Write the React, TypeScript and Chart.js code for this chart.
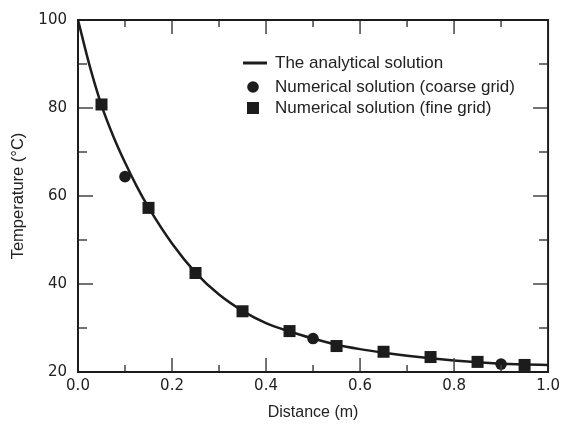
import React, { useEffect, useRef } from "react";
import { Chart, registerables } from "chart.js";

Chart.register(...registerables);

const analyticX = [0, 0.025, 0.05, 0.075, 0.1, 0.125, 0.15, 0.2, 0.25, 0.3, 0.35, 0.4, 0.45, 0.5, 0.55, 0.6, 0.65, 0.7, 0.75, 0.8, 0.85, 0.9, 0.95, 1.0];
const analyticY = [100, 89.5, 80.6, 73.6, 67.6, 62.2, 57.4, 49.2, 42.6, 37.6, 33.9, 31.1, 29.2, 27.6, 26.2, 25.2, 24.4, 23.7, 23.1, 22.6, 22.2, 21.9, 21.7, 21.6];

const coarseX = [0.1, 0.5, 0.9];
const coarseY = [64.4, 27.6, 21.8];

const fineX = [0.05, 0.15, 0.25, 0.35, 0.45, 0.55, 0.65, 0.75, 0.85, 0.95];
const fineY = [80.8, 57.3, 42.5, 33.8, 29.3, 25.9, 24.6, 23.4, 22.3, 21.6];

const legendLabels = [
  "The analytical solution",
  "Numerical solution (coarse grid)",
  "Numerical solution (fine grid)",
];

const xTitle = "Distance (m)";
const yTitle = "Temperature (°C)";

const INK = "#1c1c1c";
const TEXT_FONT = "'Liberation Sans', Arial, sans-serif";
const TICK_FONT = "'DejaVu Sans', sans-serif";

const framePlugin = {
  id: "frameTicks",
  afterDraw(chart: any) {
    const { ctx, chartArea: a, scales } = chart;
    const xs = scales.x;
    const ys = scales.y;
    ctx.save();
    // ticks inward
    ctx.strokeStyle = "#444";
    ctx.lineWidth = 1.5;
    for (let i = 1; i < 10; i++) {
      const v = i / 10;
      const px = xs.getPixelForValue(v);
      const len = i % 2 === 0 ? 14 : 7;
      ctx.beginPath();
      ctx.moveTo(px, a.bottom);
      ctx.lineTo(px, a.bottom - len);
      ctx.moveTo(px, a.top);
      ctx.lineTo(px, a.top + len);
      ctx.stroke();
    }
    for (let v = 30; v < 100; v += 10) {
      const py = ys.getPixelForValue(v);
      const len = v % 20 === 0 ? 15 : 9;
      ctx.beginPath();
      ctx.moveTo(a.left, py);
      ctx.lineTo(a.left + len, py);
      ctx.moveTo(a.right, py);
      ctx.lineTo(a.right - len, py);
      ctx.stroke();
    }
    // frame
    ctx.strokeStyle = INK;
    ctx.lineWidth = 2;
    ctx.strokeRect(a.left, a.top, a.right - a.left, a.bottom - a.top);

    // legend
    const lx = 243;
    const tx = 275;
    const rows = [63, 87, 108];
    ctx.fillStyle = INK;
    ctx.strokeStyle = INK;
    ctx.lineWidth = 3;
    ctx.beginPath();
    ctx.moveTo(lx, rows[0]);
    ctx.lineTo(lx + 24, rows[0]);
    ctx.stroke();
    ctx.beginPath();
    ctx.arc(lx + 10, rows[1], 5.8, 0, Math.PI * 2);
    ctx.fill();
    ctx.fillRect(lx + 10 - 6, rows[2] - 6, 12, 12);
    ctx.font = `17px ${TEXT_FONT}`;
    ctx.fillStyle = "#222";
    ctx.textBaseline = "middle";
    ctx.textAlign = "left";
    legendLabels.forEach((t, i) => ctx.fillText(t, tx, rows[i]));
    ctx.restore();
  },
};

export default function App() {
  const ref = useRef<HTMLCanvasElement>(null);
  useEffect(() => {
    document.body.style.margin = "0";
    const canvas = ref.current!;
    const chart = new Chart(canvas, {
      type: "scatter",
      data: {
        datasets: [
          {
            type: "line",
            label: legendLabels[0],
            data: analyticX.map((x, i) => ({ x, y: analyticY[i] })),
            borderColor: INK,
            borderWidth: 2.5,
            pointRadius: 0,
            cubicInterpolationMode: "monotone",
            fill: false,
            order: 3,
          },
          {
            label: legendLabels[1],
            data: coarseX.map((x, i) => ({ x, y: coarseY[i] })),
            backgroundColor: INK,
            borderColor: INK,
            pointStyle: "circle",
            pointRadius: 5.8,
            borderWidth: 0,
            order: 1,
          },
          {
            label: legendLabels[2],
            data: fineX.map((x, i) => ({ x, y: fineY[i] })),
            backgroundColor: INK,
            borderColor: INK,
            pointStyle: "rect",
            pointRadius: 8.5,
            borderWidth: 0,
            order: 2,
          },
        ],
      },
      options: {
        responsive: false,
        animation: false,
        layout: { padding: { left: 0, top: 18, right: 16, bottom: 0 } },
        plugins: { legend: { display: false }, tooltip: { enabled: false } },
        scales: {
          x: {
            type: "linear",
            min: 0,
            max: 1,
            border: { display: false },
            grid: { display: false, drawTicks: false },
            ticks: {
              stepSize: 0.2,
              padding: 5,
              color: "#222",
              font: { family: TICK_FONT, size: 15 },
              callback: (v: any) => Number(v).toFixed(1),
            },
            title: {
              display: true,
              text: xTitle,
              color: "#222",
              font: { family: TEXT_FONT, size: 16 },
              padding: { top: 0, bottom: 3.5 },
            },
            afterFit: (s: any) => {
              s.height = 54;
            },
          },
          y: {
            min: 20,
            max: 100,
            border: { display: false },
            grid: { display: false, drawTicks: false },
            ticks: {
              stepSize: 20,
              padding: 11,
              color: "#222",
              font: { family: TICK_FONT, size: 15 },
            },
            title: {
              display: true,
              text: yTitle,
              color: "#222",
              font: { family: TEXT_FONT, size: 16.5 },
              padding: { top: 8.5, bottom: 0 },
            },
            afterFit: (s: any) => {
              s.width = 78;
            },
          },
        },
      },
      plugins: [framePlugin],
    });
    return () => chart.destroy();
  }, []);
  return (
    <div style={{ width: 565, height: 426, background: "#fff" }}>
      <canvas ref={ref} width={565} height={426} style={{ display: "block" }} />
    </div>
  );
}
